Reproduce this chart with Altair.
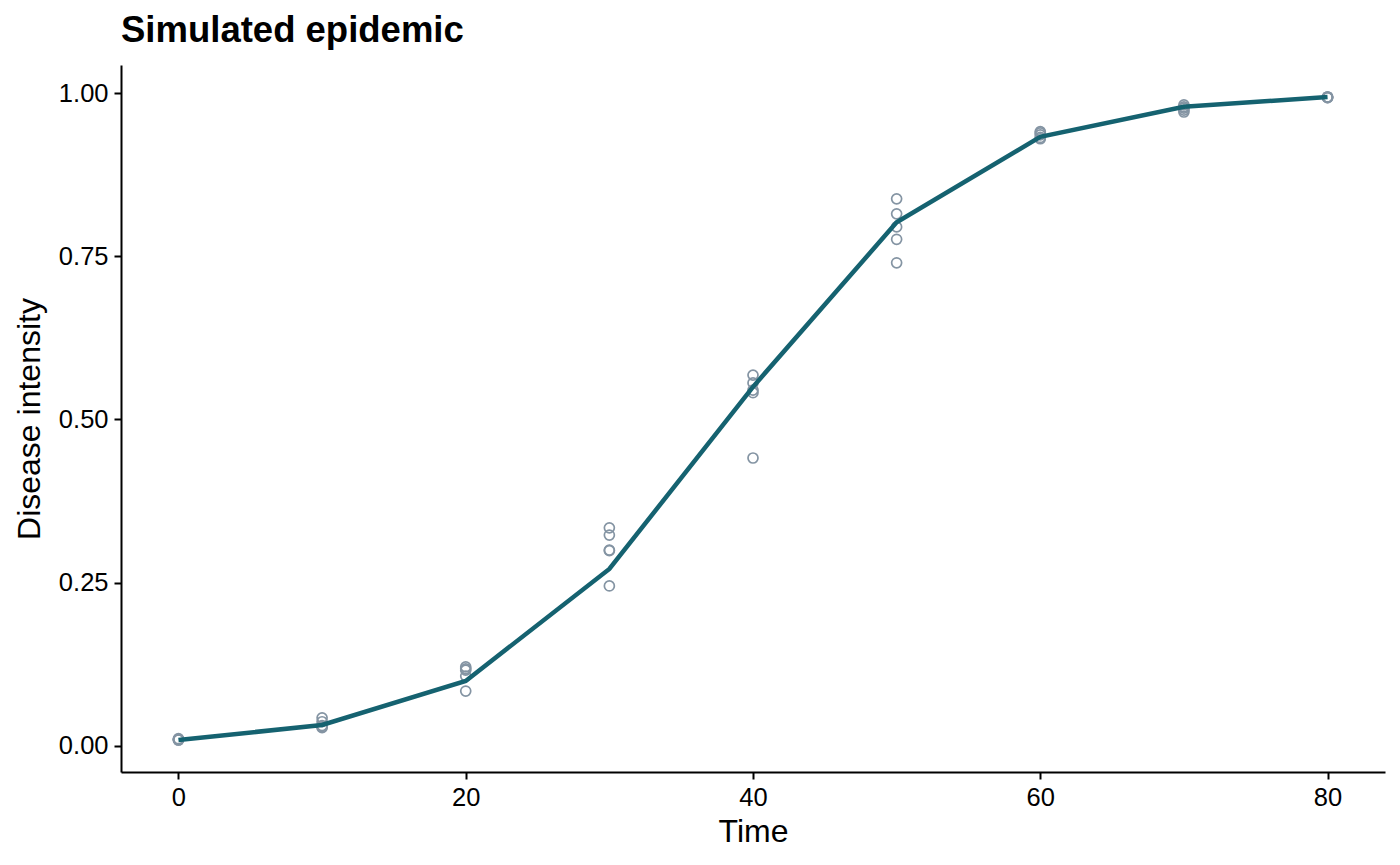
import altair as alt
import pandas as pd

obs_time = [0] * 5 + [10] * 5 + [20] * 5 + [30] * 5 + [40] * 5 + [50] * 5 + [60] * 5 + [70] * 5 + [80] * 5
obs_intensity = [
    0.010, 0.009, 0.011, 0.010, 0.009,
    0.043, 0.037, 0.031, 0.029, 0.028,
    0.121, 0.118, 0.116, 0.107, 0.084,
    0.334, 0.323, 0.300, 0.299, 0.245,
    0.568, 0.556, 0.545, 0.541, 0.441,
    0.838, 0.815, 0.795, 0.776, 0.740,
    0.941, 0.939, 0.936, 0.932, 0.930,
    0.982, 0.979, 0.977, 0.974, 0.971,
    0.994, 0.994, 0.993, 0.993, 0.994,
]

# Mean curve
curve_time = [0, 10, 20, 30, 40, 50, 60, 70, 80]
curve_intensity = [0.009, 0.032, 0.0995, 0.271, 0.550, 0.802, 0.933, 0.979, 0.994]

obs = pd.DataFrame({"time": obs_time, "intensity": obs_intensity})
curve = pd.DataFrame({"time": curve_time, "intensity": curve_intensity})

font = "Liberation Sans"

x = alt.X(
    "time:Q",
    title="Time",
    scale=alt.Scale(domain=[-4, 84], nice=False, zero=False),
    axis=alt.Axis(values=[0, 20, 40, 60, 80], titlePadding=6, labelPadding=6),
)
y = alt.Y(
    "intensity:Q",
    title="Disease intensity",
    scale=alt.Scale(domain=[-0.040, 1.043], nice=False, zero=False),
    axis=alt.Axis(values=[0, 0.25, 0.5, 0.75, 1.0], format=".2f", titlePadding=12, labelPadding=6),
)

points = (
    alt.Chart(obs)
    .mark_point(shape="circle", filled=False, size=100, strokeWidth=1.7, color="#8494a3", opacity=1)
    .encode(x=x, y=y)
)

line = (
    alt.Chart(curve)
    .mark_line(color="#156270", strokeWidth=4.5)
    .encode(x="time:Q", y="intensity:Q")
)

chart = (
    (points + line)
    .properties(
        width=1264,
        height=707,
        autosize=alt.AutoSizeParams(type="none"),
        padding={"left": 113, "top": 57, "right": 7, "bottom": 80},
        title=alt.TitleParams(
            "Simulated epidemic",
            anchor="start",
            frame="group",
            font=font,
            fontSize=36.5,
            fontWeight="bold",
            color="black",
            offset=16,
        ),
    )
    .configure_view(stroke=None)
    .configure_axis(
        grid=False,
        domainColor="black",
        domainWidth=2,
        tickColor="black",
        tickWidth=2,
        tickSize=7,
        labelFont=font,
        labelFontSize=25.5,
        labelColor="black",
        titleFont=font,
        titleFontSize=32,
        titleFontWeight="normal",
        titleColor="black",
    )
)

chart.save("out.html", embed_options={"renderer": "svg", "actions": False})
